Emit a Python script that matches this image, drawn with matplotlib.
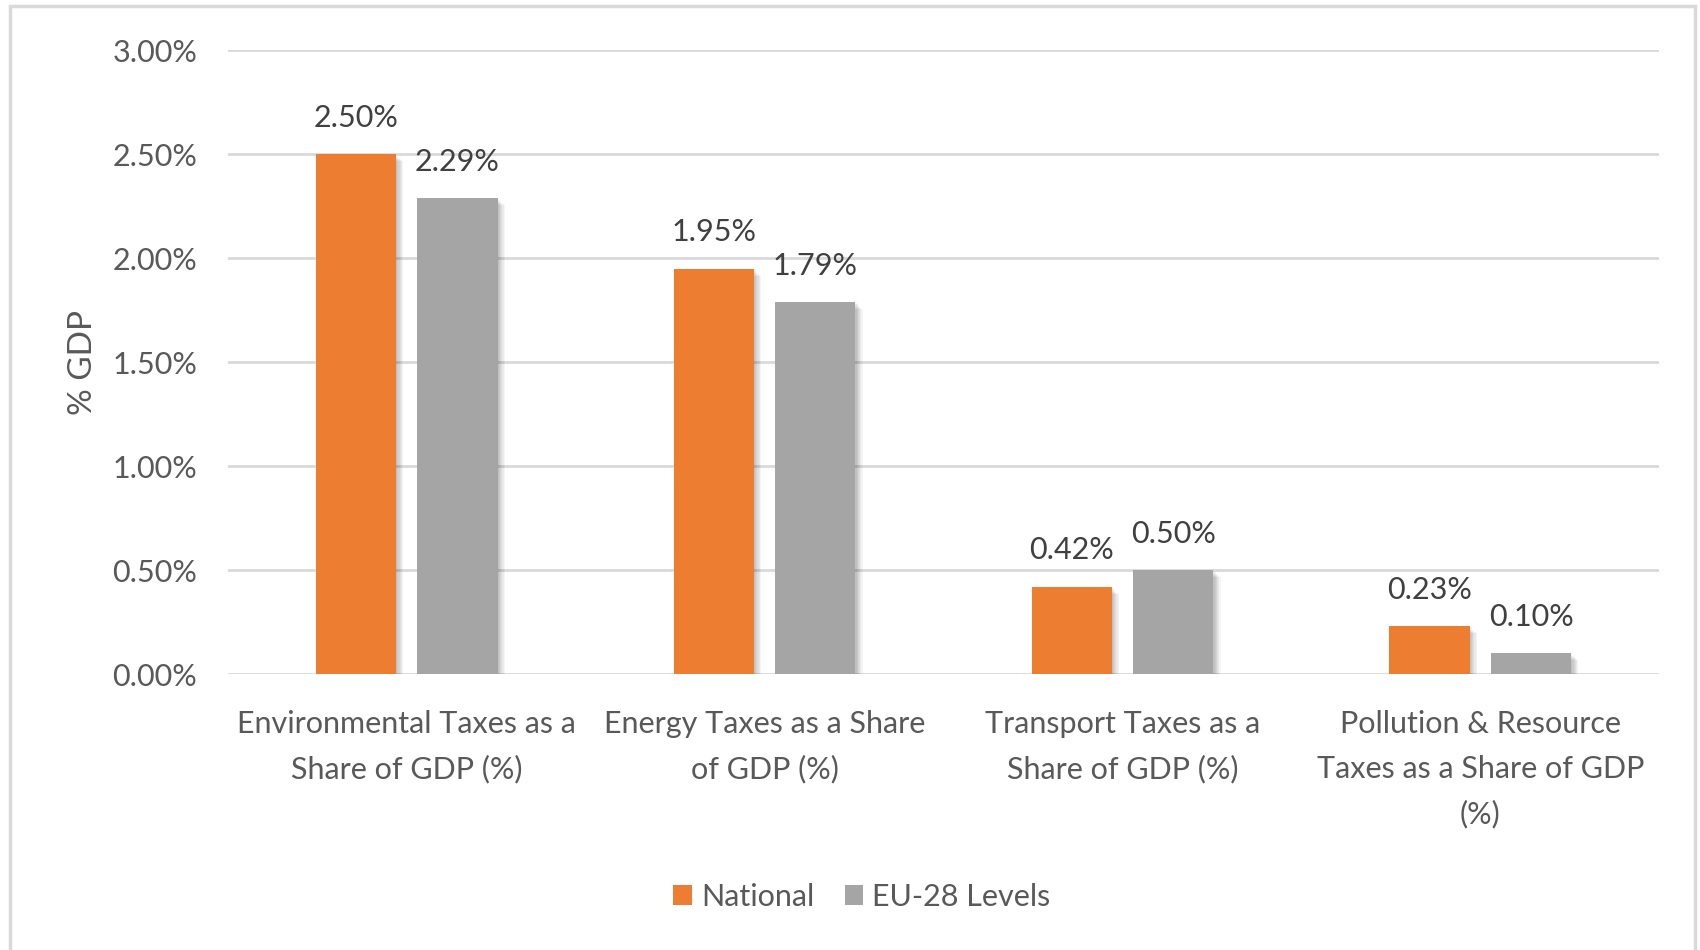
import matplotlib.pyplot as plt
import matplotlib.transforms as mtransforms
import numpy as np
from matplotlib.patches import Rectangle

categories = [
    "Environmental Taxes as a\nShare of GDP (%)",
    "Energy Taxes as a Share\nof GDP (%)",
    "Transport Taxes as a\nShare of GDP (%)",
    "Pollution & Resource\nTaxes as a Share of GDP\n(%)",
]
national = [2.50, 1.95, 0.42, 0.23]
eu28 = [2.29, 1.79, 0.50, 0.10]
series_names = ["National", "EU-28 Levels"]

ORANGE = "#ED7D31"
GREY = "#A5A5A5"
TICK_COL = "#595959"
LABEL_COL = "#404040"
GRID_COL = "#D9D9D9"

plt.rcParams["font.family"] = ["Lato", "DejaVu Sans"]

fig = plt.figure(figsize=(17, 9.5), dpi=100)
ax = fig.add_axes([0.134, 0.2905, 0.842, 0.6565])

x = np.arange(len(categories))
width = 0.224
off = 0.142

# soft drop shadow under bars
for k in range(1, 7):
    shift = mtransforms.ScaledTranslation(k * 0.012, -k * 0.012, fig.dpi_scale_trans)
    for vals, pos in ((national, x - off), (eu28, x + off)):
        shadow = ax.bar(pos, vals, width, color="black", alpha=0.045, linewidth=0, zorder=1)
        for p in shadow:
            p.set_transform(ax.transData + shift)

b1 = ax.bar(x - off, national, width, color=ORANGE, label=series_names[0], zorder=3)
b2 = ax.bar(x + off, eu28, width, color=GREY, label=series_names[1], zorder=3)

for bars in (b1, b2):
    for bar in bars:
        h = bar.get_height()
        ax.annotate(f"{h:.2f}%", (bar.get_x() + bar.get_width() / 2, h),
                    xytext=(0, 16), textcoords="offset points",
                    ha="center", va="bottom", fontsize=22, color=LABEL_COL)

ax.set_xlim(-0.5, len(categories) - 0.5)
ax.set_ylim(0, 3.0)
ax.set_yticks(np.arange(0, 3.01, 0.5))
ax.set_yticklabels([f"{v:.2f}%" for v in np.arange(0, 3.01, 0.5)])
ax.set_xticks(x)
ax.set_xticklabels(categories, linespacing=1.72)
ax.tick_params(axis="both", length=0, labelsize=22, labelcolor=TICK_COL)
ax.tick_params(axis="x", pad=26)
ax.tick_params(axis="y", pad=22)
ax.grid(axis="y", color=GRID_COL, linewidth=2, zorder=0)
ax.set_axisbelow(True)
for s in ax.spines.values():
    s.set_visible(False)

ax.set_ylabel("% GDP", fontsize=24, color=TICK_COL, labelpad=10)

ax.legend(loc="center", bbox_to_anchor=(0.507, 0.056), bbox_transform=fig.transFigure,
          ncol=2, frameon=False, fontsize=22, labelcolor=TICK_COL,
          handlelength=0.6, handleheight=0.6, handletextpad=0.3, columnspacing=1.0)

fig.patches.append(Rectangle((10 / 1700, -0.1), 1685 / 1700, 1.1 - 6 / 950,
                             transform=fig.transFigure, fill=False,
                             edgecolor=GRID_COL, linewidth=2.5))

fig.savefig("out.png", dpi=100, facecolor="white")
